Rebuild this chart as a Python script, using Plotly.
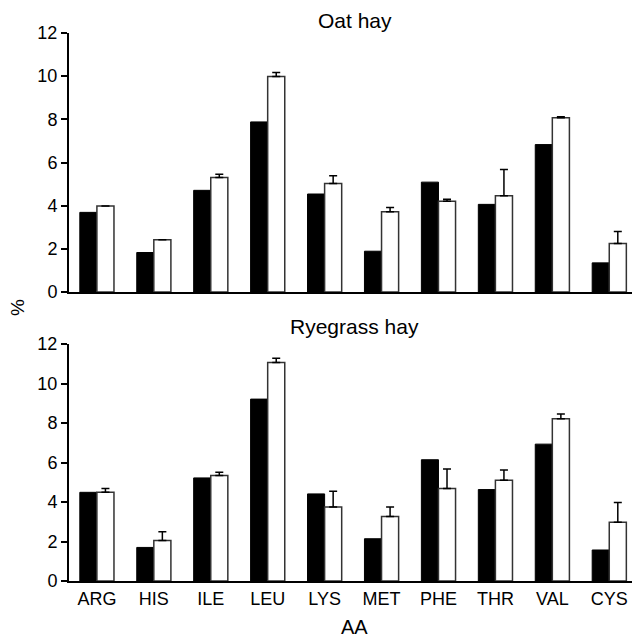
import plotly.graph_objects as go

amino_acids = ["ARG", "HIS", "ILE", "LEU", "LYS", "MET", "PHE", "THR", "VAL", "CYS"]

oat_black = [3.69, 1.83, 4.71, 7.88, 4.54, 1.89, 5.09, 4.06, 6.83, 1.35]
oat_white = [3.98, 2.42, 5.30, 9.99, 5.03, 3.72, 4.20, 4.46, 8.07, 2.25]
oat_white_err = [0.0, 0.0, 0.15, 0.18, 0.36, 0.20, 0.10, 1.21, 0.05, 0.55]

rye_black = [4.49, 1.70, 5.22, 9.21, 4.41, 2.14, 6.14, 4.63, 6.93, 1.57]
rye_white = [4.49, 2.05, 5.34, 11.06, 3.75, 3.26, 4.68, 5.10, 8.21, 2.98]
rye_white_err = [0.19, 0.44, 0.17, 0.22, 0.79, 0.49, 0.99, 0.52, 0.25, 0.99]

y_ticks = [0, 2, 4, 6, 8, 10, 12]

FONT = "Liberation Sans, Arial, sans-serif"
OFF = 8  # browser body margin
W, H = 640 - OFF, 639 - OFF
L, T, B = 69 - OFF, 33 - OFF, 58

fig = go.Figure()

def add_pair(black, white, err, xa, ya):
    fig.add_trace(go.Bar(
        x=amino_acids, y=black, xaxis=xa, yaxis=ya,
        marker=dict(color="black", line=dict(color="black", width=1)),
        showlegend=False, offsetgroup="a"))
    fig.add_trace(go.Bar(
        x=amino_acids, y=white, xaxis=xa, yaxis=ya,
        marker=dict(color="white", line=dict(color="#333333", width=1.5)),
        error_y=dict(type="data", symmetric=False, array=err,
                     arrayminus=[0] * len(err), color="black",
                     thickness=1.5, width=4),
        showlegend=False, offsetgroup="b"))

add_pair(oat_black, oat_white, oat_white_err, "x", "y")
add_pair(rye_black, rye_white, rye_white_err, "x2", "y2")

xcommon = dict(type="category", range=[-0.49, 9.54], showline=True,
               linecolor="black", linewidth=2, ticks="", showgrid=False,
               zeroline=False, tickfont=dict(family=FONT, size=18, color="black"))
ycommon = dict(range=[0, 12], tickvals=y_ticks, showline=True, linecolor="black",
               linewidth=2, ticks="outside", ticklen=6, tickwidth=1.5,
               tickcolor="black", showgrid=False, zeroline=False,
               tickfont=dict(family=FONT, size=18, color="black"))

plot_h = H - T - B
plot_w = W - L

def py(page_y):
    return (H - B - (page_y - OFF)) / plot_h

def px(page_x):
    return (page_x - OFF - L) / plot_w

fig.update_layout(
    width=W, height=H,
    margin=dict(l=L, r=0, t=T, b=B),
    plot_bgcolor="white", paper_bgcolor="white",
    barmode="group", bargap=0.4, bargroupgap=0,
    xaxis=dict(**xcommon, domain=[0, 1], anchor="y", showticklabels=False),
    yaxis=dict(**ycommon, domain=[py(292), 1], anchor="x"),
    xaxis2=dict(**xcommon, domain=[0, 1], anchor="y2", showticklabels=True),
    yaxis2=dict(**ycommon, domain=[0, py(344)], anchor="x2"),
    annotations=[
        dict(text="Oat hay", x=px(355), y=py(21), xref="paper", yref="paper",
             yanchor="middle", showarrow=False,
             font=dict(family=FONT, size=21, color="black")),
        dict(text="Ryegrass hay", x=px(354), y=py(326), xref="paper", yref="paper",
             yanchor="middle", showarrow=False,
             font=dict(family=FONT, size=21, color="black")),
        dict(text="%", x=px(17), y=py(308), xref="paper", yref="paper",
             textangle=-90, xanchor="center", yanchor="middle", showarrow=False,
             font=dict(family=FONT, size=19, color="black")),
        dict(text="AA", x=px(354), y=py(627), xref="paper", yref="paper",
             yanchor="middle", showarrow=False,
             font=dict(family=FONT, size=20, color="black")),
    ],
)

fig.write_html("out.html")
